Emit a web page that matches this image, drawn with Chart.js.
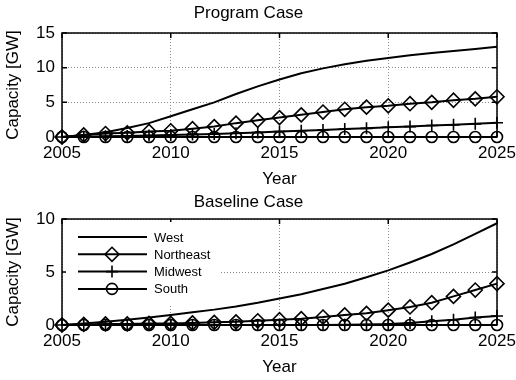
<!DOCTYPE html>
<html>
<head>
<meta charset="utf-8">
<script src="https://cdn.jsdelivr.net/npm/chart.js@4.4.0/dist/chart.umd.min.js"></script>
<style>
  html, body { margin: 0; padding: 0; background: #fff; }
  #wrap { position: relative; width: 516px; height: 380px; }
  .box { position: absolute; left: 0; width: 516px; height: 190px; }
</style>
</head>
<body>
<div id="wrap">
  <div class="box" style="top:0"><canvas id="programChart"></canvas></div>
  <div class="box" style="top:190px"><canvas id="baselineChart"></canvas></div>
</div>
<script>
(function () {
  "use strict";

  var FONT = "'Liberation Sans', Arial, Helvetica, sans-serif";

  var years = [2005, 2006, 2007, 2008, 2009, 2010, 2011, 2012, 2013, 2014, 2015,
    2016, 2017, 2018, 2019, 2020, 2021, 2022, 2023, 2024, 2025];
  var regions = ["West", "Northeast", "Midwest", "South"];
  var xTicks = [2005, 2010, 2015, 2020, 2025];

  // Program case [GW]
  var programWest = [0, 0.3, 0.7, 1.3, 2.0, 3.0, 4.0, 5.0, 6.2, 7.3, 8.3,
    9.2, 9.9, 10.5, 11.0, 11.4, 11.8, 12.1, 12.4, 12.7, 13.0];
  var programNortheast = [0, 0.3, 0.5, 0.6, 0.8, 0.9, 1.2, 1.5, 2.0, 2.4, 2.8,
    3.2, 3.6, 4.0, 4.3, 4.5, 4.8, 5.0, 5.3, 5.5, 5.8];
  var programMidwest = [0, 0.05, 0.1, 0.15, 0.2, 0.3, 0.35, 0.45, 0.55, 0.65, 0.8,
    0.9, 1.0, 1.15, 1.25, 1.4, 1.5, 1.65, 1.75, 1.9, 2.05];
  var programSouth = [0, 0, 0, 0, 0, 0, 0, 0, 0, 0, 0, 0, 0, 0, 0, 0, 0, 0, 0, 0, 0];
  var programYTicks = [0, 5, 10, 15];

  // Baseline case [GW]
  var baselineWest = [0, 0.15, 0.3, 0.5, 0.7, 0.95, 1.2, 1.45, 1.75, 2.1, 2.5,
    2.9, 3.4, 3.9, 4.5, 5.15, 5.9, 6.7, 7.6, 8.6, 9.6];
  var baselineNortheast = [0, 0.05, 0.1, 0.1, 0.15, 0.15, 0.2, 0.25, 0.3, 0.4, 0.5,
    0.6, 0.75, 0.95, 1.1, 1.4, 1.7, 2.1, 2.7, 3.3, 3.9];
  var baselineMidwest = [0, 0, 0, 0, 0, 0, 0, 0, 0, 0, 0,
    0, 0, 0.02, 0.05, 0.1, 0.2, 0.35, 0.5, 0.7, 0.85];
  var baselineSouth = [0, 0, 0, 0, 0, 0, 0, 0, 0, 0, 0, 0, 0, 0, 0, 0, 0, 0, 0, 0, 0];
  var baselineYTicks = [0, 5, 10];

  var markerStyles = [false, "rectRot", "cross", "circle"];
  var markerSizes = [0, 7, 6, 5.5];

  function toPoints(values) {
    return years.map(function (y, i) { return { x: y, y: values[i] }; });
  }

  function makeDatasets(series) {
    return series.map(function (values, i) {
      return {
        label: regions[i],
        data: toPoints(values),
        borderColor: "#000",
        borderWidth: 2,
        tension: 0,
        fill: false,
        clip: false,
        pointStyle: markerStyles[i],
        pointRadius: markerSizes[i],
        pointBorderColor: "#000",
        pointBackgroundColor: "rgba(0,0,0,0)",
        pointBorderWidth: 1.6,
        order: 4 - i
      };
    });
  }

  // box around the axes with inward tick marks, like the original figure
  var boxPlugin = {
    id: "axesBox",
    afterDatasetsDraw: function (chart) {
      var a = chart.chartArea, ctx = chart.ctx;
      var xs = chart.scales.x, ys = chart.scales.y;
      ctx.save();
      ctx.strokeStyle = "#000";
      ctx.lineWidth = 1.5;
      ctx.strokeRect(a.left, a.top, a.right - a.left, a.bottom - a.top);
      ctx.beginPath();
      xs.ticks.forEach(function (t) {
        var px = xs.getPixelForValue(t.value);
        ctx.moveTo(px, a.bottom); ctx.lineTo(px, a.bottom - 5);
        ctx.moveTo(px, a.top); ctx.lineTo(px, a.top + 5);
      });
      ys.ticks.forEach(function (t) {
        var py = ys.getPixelForValue(t.value);
        ctx.moveTo(a.left, py); ctx.lineTo(a.left + 5, py);
        ctx.moveTo(a.right, py); ctx.lineTo(a.right - 5, py);
      });
      ctx.stroke();
      ctx.restore();
    }
  };

  // legend box drawn inside the plot area (only on the baseline chart)
  var legendPlugin = {
    id: "insideLegend",
    afterDraw: function (chart, args, opts) {
      if (!opts || !opts.show) return;
      var ctx = chart.ctx;
      var x0 = opts.left, y0 = opts.top;
      ctx.save();
      ctx.fillStyle = "#fff";
      ctx.fillRect(x0, y0, opts.width, opts.height);
      ctx.font = "13px " + FONT;
      ctx.textBaseline = "middle";
      ctx.textAlign = "left";
      chart.data.datasets.forEach(function (ds, i) {
        var y = y0 + opts.firstRow + i * opts.rowGap;
        ctx.strokeStyle = "#000";
        ctx.lineWidth = 2;
        ctx.beginPath();
        ctx.moveTo(x0 + 12, y);
        ctx.lineTo(x0 + 81, y);
        ctx.stroke();
        if (ds.pointStyle) {
          ctx.lineWidth = 1.6;
          ctx.fillStyle = "rgba(0,0,0,0)";
          Chart.helpers.drawPoint(ctx, {
            pointStyle: ds.pointStyle,
            radius: ds.pointRadius,
            rotation: 0,
            borderWidth: 1.6
          }, x0 + 46, y);
        }
        ctx.fillStyle = "#000";
        ctx.fillText(ds.label, x0 + 88, y + 1);
      });
      ctx.restore();
    }
  };

  function makeChart(canvasId, title, series, yTicks, yMax, layout, legendOpts) {
    var canvas = document.getElementById(canvasId);
    return new Chart(canvas.getContext("2d"), {
      type: "line",
      data: { datasets: makeDatasets(series) },
      plugins: [boxPlugin, legendPlugin],
      options: {
        responsive: true,
        maintainAspectRatio: false,
        animation: false,
        layout: { padding: { left: 0, right: 19, top: 0, bottom: 0 } },
        plugins: {
          legend: { display: false },
          tooltip: { enabled: false },
          title: {
            display: true,
            text: title,
            color: "#000",
            font: { family: FONT, size: 17, weight: "normal", lineHeight: 1.2 },
            padding: { top: layout.titleTop, bottom: layout.titleBottom }
          },
          insideLegend: legendOpts
        },
        scales: {
          x: {
            type: "linear",
            min: 2005,
            max: 2025,
            afterBuildTicks: function (scale) {
              scale.ticks = xTicks.map(function (v) { return { value: v }; });
            },
            afterFit: function (scale) {
              scale.height = layout.xHeight;
              scale.paddingLeft = 0;
              scale.paddingRight = 0;
            },
            ticks: {
              color: "#000",
              padding: 6,
              maxRotation: 0,
              font: { family: FONT, size: 17 },
              callback: function (v) { return String(v); }
            },
            grid: {
              drawTicks: false,
              color: "#8a8a8a",
              lineWidth: 1
            },
            border: { display: false, dash: [1, 2] },
            title: {
              display: true,
              text: "Year",
              color: "#000",
              font: { family: FONT, size: 17, lineHeight: 1.2 },
              padding: { top: 0, bottom: layout.xTitlePad }
            }
          },
          y: {
            min: 0,
            max: yMax,
            afterBuildTicks: function (scale) {
              scale.ticks = yTicks.map(function (v) { return { value: v }; });
            },
            afterFit: function (scale) {
              scale.width = 62;
              scale.paddingTop = 0;
              scale.paddingBottom = 0;
            },
            ticks: {
              color: "#000",
              padding: 7,
              font: { family: FONT, size: 17 }
            },
            grid: {
              drawTicks: false,
              color: "#8a8a8a",
              lineWidth: 1
            },
            border: { display: false, dash: [1, 2] },
            title: {
              display: true,
              text: "Capacity [GW]",
              color: "#000",
              font: { family: FONT, size: 17, lineHeight: 1.2 },
              padding: { top: 3, bottom: 0 }
            }
          }
        }
      }
    });
  }

  makeChart("programChart", "Program Case",
    [programWest, programNortheast, programMidwest, programSouth],
    programYTicks, 15,
    { xHeight: 53, xTitlePad: 0, titleTop: 3, titleBottom: 9.6 },
    { show: false });

  makeChart("baselineChart", "Baseline Case",
    [baselineWest, baselineNortheast, baselineMidwest, baselineSouth],
    baselineYTicks, 10,
    { xHeight: 55, xTitlePad: 2, titleTop: 2, titleBottom: 6.6 },
    { show: true, left: 66, top: 32, width: 153, height: 83, firstRow: 15, rowGap: 17.3 });
})();
</script>
</body>
</html>
